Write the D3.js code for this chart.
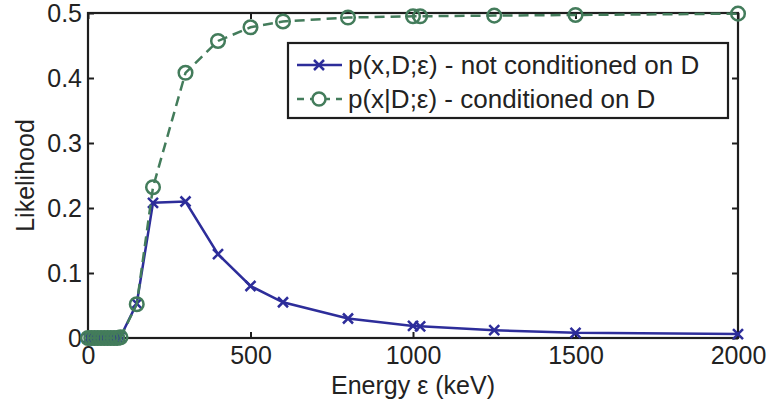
<!DOCTYPE html>
<html>
<head>
<meta charset="utf-8">
<script src="https://cdn.jsdelivr.net/npm/d3@7"></script>
<style>
  body { margin: 0; background: #fff; }
  svg text { font-family: "Liberation Sans", Arial, sans-serif; fill: #222; }
</style>
</head>
<body>
<svg id="chart" width="772" height="404"></svg>
<script>
// Energies (keV) at which both likelihoods were evaluated
const energies = [0, 10, 20, 30, 40, 50, 60, 70, 80, 90, 100, 150, 200, 300, 400, 500, 600, 800, 1000, 1022, 1250, 1500, 2000];
// p(x,D;e) - not conditioned on D
const jointLik = [0, 0, 0, 0, 0, 0, 0, 0, 0, 0.0005, 0.002, 0.053, 0.208, 0.21, 0.129, 0.08, 0.055, 0.03, 0.0185, 0.018, 0.012, 0.008, 0.006];
// p(x|D;e) - conditioned on D
const condLik = [0, 0, 0, 0, 0, 0, 0, 0, 0, 0, 0.001, 0.052, 0.232, 0.408, 0.457, 0.478, 0.487, 0.493, 0.495, 0.495, 0.496, 0.497, 0.499];

const xTicks = [0, 500, 1000, 1500, 2000];
const yTicks = [0, 0.1, 0.2, 0.3, 0.4, 0.5];
const legendLabels = ['p(x,D;\u03b5) - not conditioned on D', 'p(x|D;\u03b5) - conditioned on D'];

const blue = '#2d2d9a';
const green = '#437c5b';
const ink = '#1e1e1e';

const margin = { top: 13, right: 34, bottom: 66, left: 88 };
const width = 772 - margin.left - margin.right;
const height = 404 - margin.top - margin.bottom;

const svg = d3.select('#chart');
const g = svg.append('g').attr('transform', `translate(${margin.left},${margin.top})`);

const x = d3.scaleLinear().domain([0, 2000]).range([0, width]);
const y = d3.scaleLinear().domain([0, 0.5]).range([height, 0]);

// Inward ticks on all four sides, labels only on bottom and left
const tickLen = 6;
g.append('g')
    .attr('transform', `translate(0,${height})`)
    .call(d3.axisBottom(x).tickValues(xTicks).tickSize(-tickLen).tickPadding(8).tickFormat(d3.format('d')))
    .call(a => a.select('.domain').remove());
g.append('g')
    .call(d3.axisLeft(y).tickValues(yTicks).tickSize(-tickLen).tickPadding(6).tickFormat(d => d === 0 ? '0' : d3.format('.1f')(d)))
    .call(a => a.select('.domain').remove());
g.append('g')
    .call(d3.axisTop(x).tickValues(xTicks).tickSize(-tickLen).tickFormat(''))
    .call(a => a.select('.domain').remove());
g.append('g')
    .attr('transform', `translate(${width},0)`)
    .call(d3.axisRight(y).tickValues(yTicks).tickSize(-tickLen).tickFormat(''))
    .call(a => a.select('.domain').remove());

g.selectAll('.tick line').attr('stroke', ink).attr('stroke-width', 2);
g.selectAll('.tick text').attr('font-size', 25).attr('fill', ink);

// Box around the plot area
g.append('rect')
    .attr('width', width).attr('height', height)
    .attr('fill', 'none').attr('stroke', ink).attr('stroke-width', 2.2);

const line = d3.line().x((d, i) => x(energies[i])).y(d => y(d));

function crossPath(cx, cy, s) {
    return `M${cx - s},${cy - s}L${cx + s},${cy + s}M${cx - s},${cy + s}L${cx + s},${cy - s}`;
}

// Joint likelihood: blue solid with x markers (drawn first, underneath)
g.append('path')
    .datum(jointLik)
    .attr('d', line)
    .attr('fill', 'none').attr('stroke', blue).attr('stroke-width', 2.5);
g.selectAll('.cross')
    .data(jointLik)
    .enter().append('path')
    .attr('class', 'cross')
    .attr('d', (d, i) => crossPath(x(energies[i]), y(d), 5))
    .attr('stroke', blue).attr('stroke-width', 2.5);

// Conditioned likelihood: green dashed with open circles
g.append('path')
    .datum(condLik)
    .attr('d', line)
    .attr('fill', 'none').attr('stroke', green).attr('stroke-width', 2.5)
    .attr('stroke-dasharray', '10,6');
g.selectAll('.circ')
    .data(condLik)
    .enter().append('circle')
    .attr('class', 'circ')
    .attr('cx', (d, i) => x(energies[i]))
    .attr('cy', d => y(d))
    .attr('r', 6.8)
    .attr('fill', 'none').attr('stroke', green).attr('stroke-width', 2.5);

// Axis titles
svg.append('text')
    .attr('x', margin.left + x(1000)).attr('y', 394)
    .attr('text-anchor', 'middle').attr('font-size', 25)
    .text('Energy \u03b5 (keV)');
svg.append('text')
    .attr('transform', `translate(34,${margin.top + height / 2}) rotate(-90)`)
    .attr('text-anchor', 'middle').attr('font-size', 25)
    .text('Likelihood');

// Legend
const legend = svg.append('g').attr('transform', 'translate(288,43)');
legend.append('rect')
    .attr('width', 440).attr('height', 75)
    .attr('fill', '#fff').attr('stroke', ink).attr('stroke-width', 2.2);

const rows = legend.selectAll('.entry')
    .data(legendLabels)
    .enter().append('g')
    .attr('class', 'entry')
    .attr('transform', (d, i) => `translate(0,${22 + i * 34})`);

rows.append('line')
    .attr('x1', 9).attr('x2', 54)
    .attr('stroke', (d, i) => i === 0 ? blue : green)
    .attr('stroke-width', 2.5)
    .attr('stroke-dasharray', (d, i) => i === 0 ? null : '7,6');
rows.filter((d, i) => i === 0).append('path')
    .attr('d', crossPath(31, 0, 5))
    .attr('stroke', blue).attr('stroke-width', 2.5);
rows.filter((d, i) => i === 1).append('circle')
    .attr('cx', 31).attr('r', 6.5)
    .attr('fill', '#fff').attr('stroke', green).attr('stroke-width', 2.5);

rows.append('text')
    .attr('x', 60).attr('dy', '0.35em')
    .attr('font-size', 26)
    .text(d => d);
</script>
</body>
</html>
